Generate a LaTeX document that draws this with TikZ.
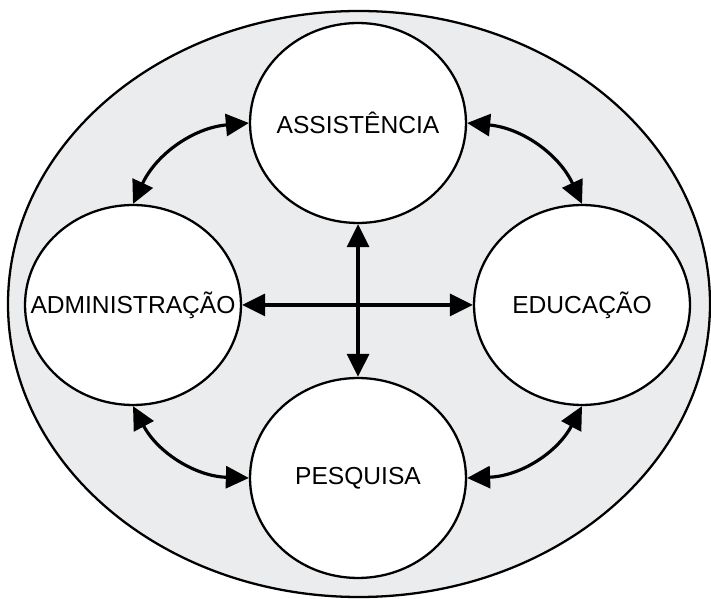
\documentclass[tikz,border=0pt]{standalone}
\usepackage{fontspec}
\setmainfont{Liberation Sans}
\usetikzlibrary{arrows.meta,shapes.geometric}
\definecolor{fundo}{RGB}{235,236,238}
\newcommand{\bordas}{1.3pt}
\newcommand{\setas}{1.8pt}

\begin{document}
\begin{tikzpicture}[x=0.02cm,y=0.02cm]
            %\draw[help lines] (0,0) grid (711,599);
            \useasboundingbox (0,0) rectangle (711,599);
            \tikzset{area/.style = {ellipse, draw, line width = \bordas, fill = white,
                                    minimum width = 4.32cm, minimum height = 4cm, inner sep = 0pt,
                                    label = {[font = \fontsize{14}{17}\selectfont]center:#1}}}
            \tikzset{seta/.style = {line width = \setas, {Triangle[length=0.46cm,width=0.44cm]}-{Triangle[length=0.46cm,width=0.44cm]}}}
            \draw[line width = \bordas, fill = fundo] (359,295) ellipse (351 and 293);
            \node[area=ASSISTÊNCIA] (ass) at (358,476) {};
            \node[area=PESQUISA] (pes) at (358,121) {};
            \node[area=ADMINISTRAÇÃO] (adm) at (133,294) {};
            \node[area=EDUCAÇÃO] (edu) at (582,294) {};
            % setas curvas
            \draw[seta] (ass.west) to[bend right=30] (adm.north);
            \draw[seta] (ass.east) to[bend left=30] (edu.north);
            \draw[seta] (pes.west) to[bend left=30] (adm.south);
            \draw[seta] (pes.east) to[bend right=30] (edu.south);
            % cruz
            \draw[seta] (adm.east) -- (edu.west);
            \draw[seta] (ass.south) -- (pes.north);
        \end{tikzpicture}
\end{document}
